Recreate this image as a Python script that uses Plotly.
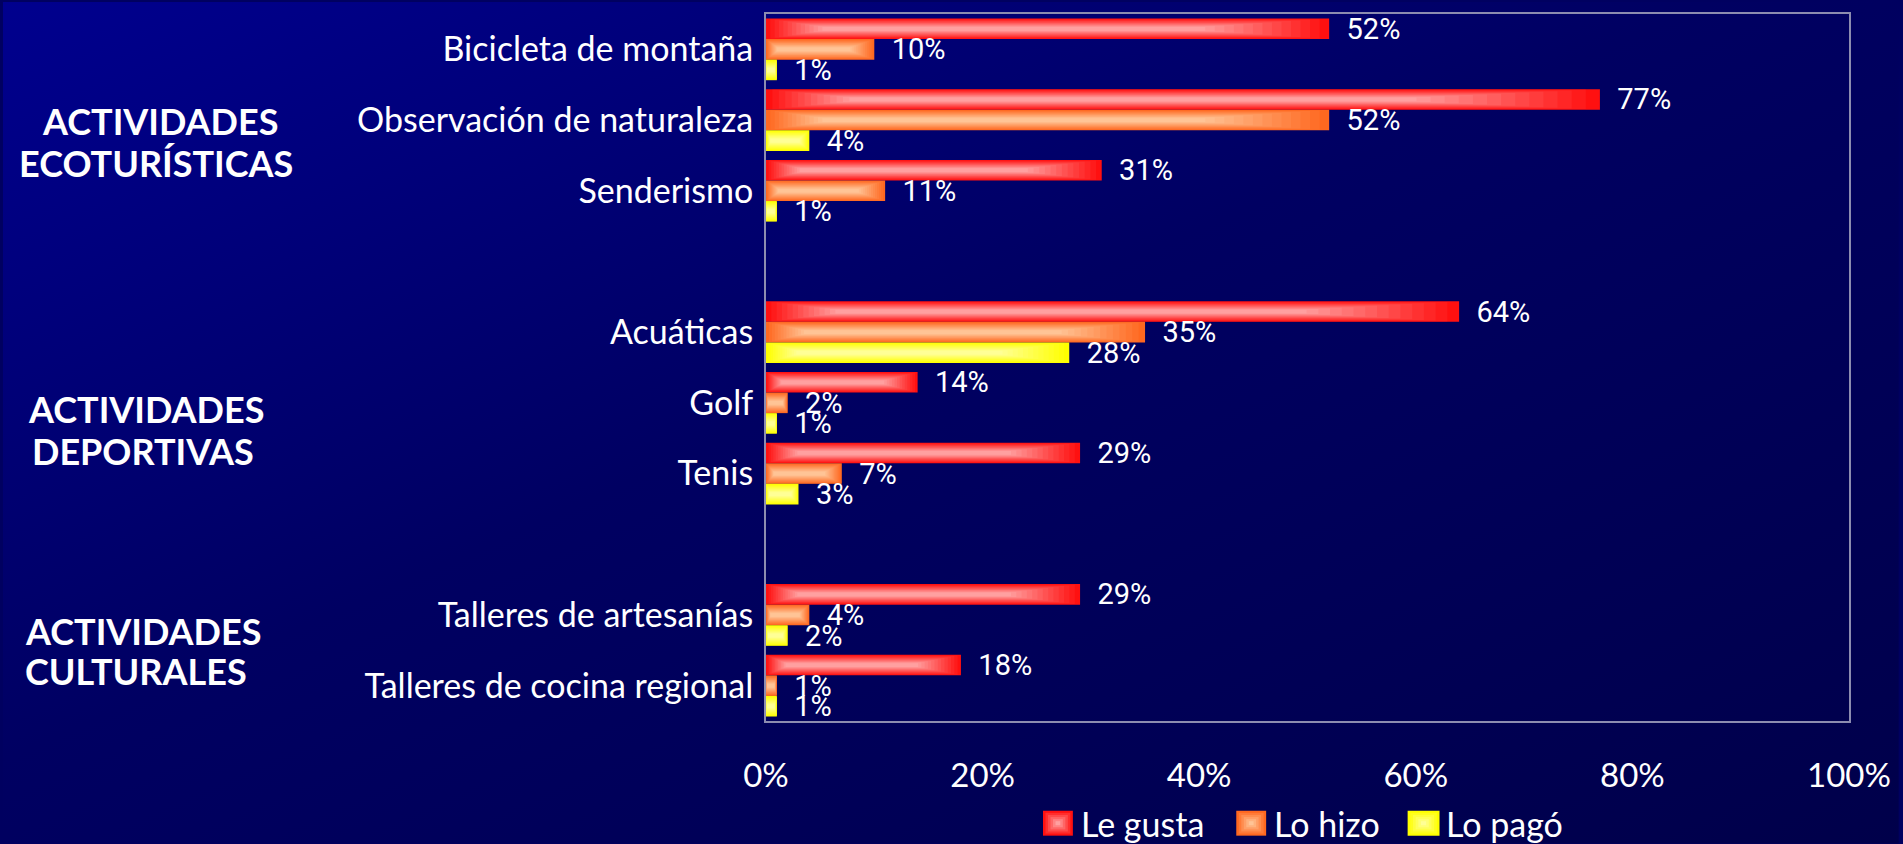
import base64
import plotly.graph_objects as go

# ---------------- data ----------------
groups = ["ACTIVIDADES ECOTURÍSTICAS", "ACTIVIDADES DEPORTIVAS", "ACTIVIDADES CULTURALES"]
group_members = [
    ["Bicicleta de montaña", "Observación de naturaleza", "Senderismo"],
    ["Acuáticas", "Golf", "Tenis"],
    ["Talleres de artesanías", "Talleres de cocina regional"],
]
series = ["Le gusta", "Lo hizo", "Lo pagó"]
le_gusta = [52, 77, 31, 64, 14, 29, 29, 18]
lo_hizo = [10, 52, 11, 35, 2, 7, 4, 1]
lo_pago = [1, 4, 1, 28, 1, 3, 2, 1]
x_ticks = [0, 20, 40, 60, 80, 100]

# ---------------- layout geometry ----------------
W, H = 1903, 844
PL, PR, PT, PB = 766, 1853, 12, 721
pw, ph = PR - PL, PB - PT


def px_x(p):
    return (p - PL) / pw


def px_y(p):
    return (PB - p) / ph


# category positions with one empty slot between groups
categories, positions = [], []
pos = 0
for gi, members in enumerate(group_members):
    if gi > 0:
        pos += 1
    for m in members:
        categories.append(m)
        positions.append(pos)
        pos += 1
last_pos = positions[-1]

edge_cols = [(255, 16, 16), (255, 104, 32), (255, 255, 0)]
center_cols = [(255, 160, 160), (255, 196, 150), (255, 255, 150)]
values = [le_gusta, lo_hizo, lo_pago]

bw = 0.291
offsets = [-1.5 * bw, -0.5 * bw, 0.5 * bw]
N = 14


def mix(a, b, t):
    return "rgb(%d,%d,%d)" % tuple(round(a[i] + (b[i] - a[i]) * t) for i in range(3))


fig = go.Figure()
for s in range(3):
    vals = values[s]
    for k in range(N):
        t = k / (N - 1)
        f = 1 - 0.82 * t
        li, ri = 0.10 * t, 0.22 * t
        kw = {}
        if k == 0:
            kw = dict(
                text=[f"  {v}%" for v in vals],
                textposition="outside",
                textfont=dict(family="Roboto", size=29, color="white"),
                constraintext="none",
                cliponaxis=False,
            )
        fig.add_trace(go.Bar(
            orientation="h",
            y=positions,
            x=[v * (1 - li - ri) for v in vals],
            base=[v * li for v in vals],
            width=bw * f,
            offset=offsets[s] + bw * (1 - f) / 2,
            marker=dict(color=mix(edge_cols[s], center_cols[s], t), line=dict(width=0)),
            showlegend=False,
            hoverinfo="skip",
            name=series[s],
            **kw,
        ))

# background gradient
svg = (
    "<svg xmlns='http://www.w3.org/2000/svg' width='1903' height='844' preserveAspectRatio='none'>"
    "<defs><linearGradient id='g' x1='0' y1='0' x2='1' y2='1'>"
    "<stop offset='0' stop-color='#00008E'/>"
    "<stop offset='0.45' stop-color='#000062'/>"
    "<stop offset='1' stop-color='#00004A'/>"
    "</linearGradient></defs>"
    "<rect width='1903' height='844' fill='url(#g)'/></svg>"
)
src = "data:image/svg+xml;base64," + base64.b64encode(svg.encode()).decode()

annotations = []
# group labels (two lines each)
glines = [
    [("ACTIVIDADES", 158, 119), ("ECOTURÍSTICAS", 154, 161)],
    [("ACTIVIDADES", 144, 408), ("DEPORTIVAS", 141, 450)],
    [("ACTIVIDADES", 141, 631), ("CULTURALES", 134, 671)],
]
for gi, lines in enumerate(glines):
    for txt, cx, cy in lines:
        annotations.append(dict(
            text=txt, xref="paper", yref="paper", x=px_x(cx), y=px_y(cy),
            xanchor="center", yanchor="middle", showarrow=False,
            font=dict(family="Lato", size=36, color="white", weight="bold"),
        ))

# custom legend
shapes = []
leg = [(1044, 1074, 1080), (1238, 1268, 1274), (1410, 1442, 1447)]
ly0, ly1 = 811, 836
for s, (x0, x1, tx) in enumerate(leg):
    for k in range(6):
        t = k / 5
        ix = (x1 - x0) * 0.42 * t
        iy = (ly1 - ly0) * 0.42 * t
        shapes.append(dict(
            type="rect", xref="paper", yref="paper",
            x0=px_x(x0 + ix), x1=px_x(x1 - ix), y0=px_y(ly1 - iy), y1=px_y(ly0 + iy),
            fillcolor=mix(edge_cols[s], center_cols[s], t), line=dict(width=0), layer="above",
        ))
    annotations.append(dict(
        text=series[s], xref="paper", yref="paper", x=px_x(tx), y=px_y(824),
        xanchor="left", yanchor="middle", showarrow=False,
        font=dict(family="Lato", size=34, color="white"),
    ))

fig.update_layout(
    width=W, height=H,
    margin=dict(l=PL, r=W - PR, t=PT, b=H - PB, pad=0),
    paper_bgcolor="#000060",
    plot_bgcolor="rgba(0,0,0,0)",
    barmode="overlay",
    showlegend=False,
    images=[dict(
        source=src, xref="paper", yref="paper",
        x=px_x(0), y=px_y(0), sizex=W / pw, sizey=H / ph,
        xanchor="left", yanchor="top", sizing="stretch", layer="below",
    )],
    annotations=annotations,
    shapes=shapes,
    xaxis=dict(
        range=[0, 100], tickvals=x_ticks, ticktext=[f"{v}%" for v in x_ticks],
        showgrid=False, zeroline=False, showline=True, mirror=True,
        linecolor="#8C8CB0", linewidth=2, ticks="",
        ticklabelstandoff=24,
        tickfont=dict(family="Lato", size=33, color="white"),
    ),
    yaxis=dict(
        range=[last_pos + 0.5, -0.5], tickvals=positions, ticktext=categories,
        showgrid=False, zeroline=False, showline=True, mirror=True,
        linecolor="#8C8CB0", linewidth=2, ticks="",
        ticklabelstandoff=4,
        tickfont=dict(family="Lato", size=34, color="white"),
    ),
)

fig.write_html(
    "out.html",
    config={"displayModeBar": False},
    post_script="document.body.style.margin='0';document.body.style.overflow='hidden';",
)
